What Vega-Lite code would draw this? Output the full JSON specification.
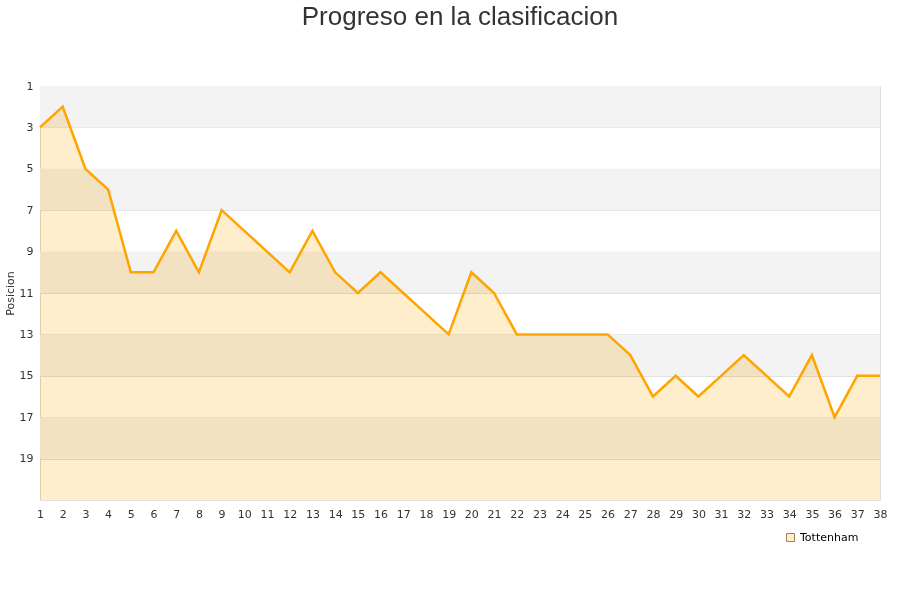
{
  "$schema": "https://vega.github.io/schema/vega-lite/v6.json",
  "width": 840,
  "height": 414,
  "autosize": {"type": "none"},
  "padding": {"left": 40, "top": 86, "right": 20, "bottom": 100},
  "background": "white",
  "title": {"text": "Progreso en la clasificacion", "fontSize": 26, "font": "Liberation Sans", "fontWeight": "normal", "color": "#333333", "offset": 50, "anchor": "middle"},
  "config": {
    "view": {"stroke": "#dddddd", "strokeWidth": 1},
    "axis": {"labelFont": "DejaVu Sans", "labelFontSize": 11, "labelColor": "#333333", "titleFont": "DejaVu Sans", "titleFontSize": 11, "titleFontWeight": "normal", "titleColor": "#333333", "domain": false, "ticks": false}
  },
  "datasets": {
    "pos": [
      {"jornada": 1, "posicion": 3, "equipo": "Tottenham"},
      {"jornada": 2, "posicion": 2, "equipo": "Tottenham"},
      {"jornada": 3, "posicion": 5, "equipo": "Tottenham"},
      {"jornada": 4, "posicion": 6, "equipo": "Tottenham"},
      {"jornada": 5, "posicion": 10, "equipo": "Tottenham"},
      {"jornada": 6, "posicion": 10, "equipo": "Tottenham"},
      {"jornada": 7, "posicion": 8, "equipo": "Tottenham"},
      {"jornada": 8, "posicion": 10, "equipo": "Tottenham"},
      {"jornada": 9, "posicion": 7, "equipo": "Tottenham"},
      {"jornada": 10, "posicion": 8, "equipo": "Tottenham"},
      {"jornada": 11, "posicion": 9, "equipo": "Tottenham"},
      {"jornada": 12, "posicion": 10, "equipo": "Tottenham"},
      {"jornada": 13, "posicion": 8, "equipo": "Tottenham"},
      {"jornada": 14, "posicion": 10, "equipo": "Tottenham"},
      {"jornada": 15, "posicion": 11, "equipo": "Tottenham"},
      {"jornada": 16, "posicion": 10, "equipo": "Tottenham"},
      {"jornada": 17, "posicion": 11, "equipo": "Tottenham"},
      {"jornada": 18, "posicion": 12, "equipo": "Tottenham"},
      {"jornada": 19, "posicion": 13, "equipo": "Tottenham"},
      {"jornada": 20, "posicion": 10, "equipo": "Tottenham"},
      {"jornada": 21, "posicion": 11, "equipo": "Tottenham"},
      {"jornada": 22, "posicion": 13, "equipo": "Tottenham"},
      {"jornada": 23, "posicion": 13, "equipo": "Tottenham"},
      {"jornada": 24, "posicion": 13, "equipo": "Tottenham"},
      {"jornada": 25, "posicion": 13, "equipo": "Tottenham"},
      {"jornada": 26, "posicion": 13, "equipo": "Tottenham"},
      {"jornada": 27, "posicion": 14, "equipo": "Tottenham"},
      {"jornada": 28, "posicion": 16, "equipo": "Tottenham"},
      {"jornada": 29, "posicion": 15, "equipo": "Tottenham"},
      {"jornada": 30, "posicion": 16, "equipo": "Tottenham"},
      {"jornada": 31, "posicion": 15, "equipo": "Tottenham"},
      {"jornada": 32, "posicion": 14, "equipo": "Tottenham"},
      {"jornada": 33, "posicion": 15, "equipo": "Tottenham"},
      {"jornada": 34, "posicion": 16, "equipo": "Tottenham"},
      {"jornada": 35, "posicion": 14, "equipo": "Tottenham"},
      {"jornada": 36, "posicion": 17, "equipo": "Tottenham"},
      {"jornada": 37, "posicion": 15, "equipo": "Tottenham"},
      {"jornada": 38, "posicion": 15, "equipo": "Tottenham"}
    ],
    "bands": [
      {"desde": 1, "hasta": 3},
      {"desde": 5, "hasta": 7},
      {"desde": 9, "hasta": 11},
      {"desde": 13, "hasta": 15},
      {"desde": 17, "hasta": 19}
    ]
  },
  "layer": [
    {
      "data": {"name": "bands"},
      "mark": {"type": "rect", "color": "#f3f3f3"},
      "encoding": {
        "y": {"field": "desde", "type": "quantitative", "scale": {"domain": [1, 21], "reverse": true, "zero": false, "nice": false}, "axis": {"values": [1, 3, 5, 7, 9, 11, 13, 15, 17, 19, 21], "labelExpr": "datum.value == 21 ? '' : datum.label", "title": "Posicion", "gridColor": "#e0e0e0", "labelPadding": 7, "titlePadding": 4}},
        "y2": {"field": "hasta"}
      }
    },
    {
      "data": {"name": "pos"},
      "mark": {"type": "area", "blend": "multiply"},
      "encoding": {
        "x": {"field": "jornada", "type": "ordinal", "scale": {"type": "point", "padding": 0}, "axis": {"grid": false, "title": null, "labelPadding": 8, "labelAngle": 0, "labelOverlap": false}},
        "y": {"field": "posicion", "type": "quantitative"},
        "y2": {"datum": 21},
        "color": {"field": "equipo", "type": "nominal", "scale": {"range": ["#ffeecc"]}, "legend": {"title": null, "orient": "none", "legendX": 745, "legendY": 446, "symbolType": "square", "symbolStrokeColor": "#a08050", "symbolStrokeWidth": 1, "symbolSize": 64, "symbolOpacity": 1, "labelFont": "DejaVu Sans", "labelFontSize": 11, "labelColor": "#000000"}}
      }
    },
    {
      "data": {"name": "pos"},
      "mark": {"type": "line", "color": "#ffa500", "strokeWidth": 2.5},
      "encoding": {
        "x": {"field": "jornada", "type": "ordinal"},
        "y": {"field": "posicion", "type": "quantitative"}
      }
    }
  ]
}
